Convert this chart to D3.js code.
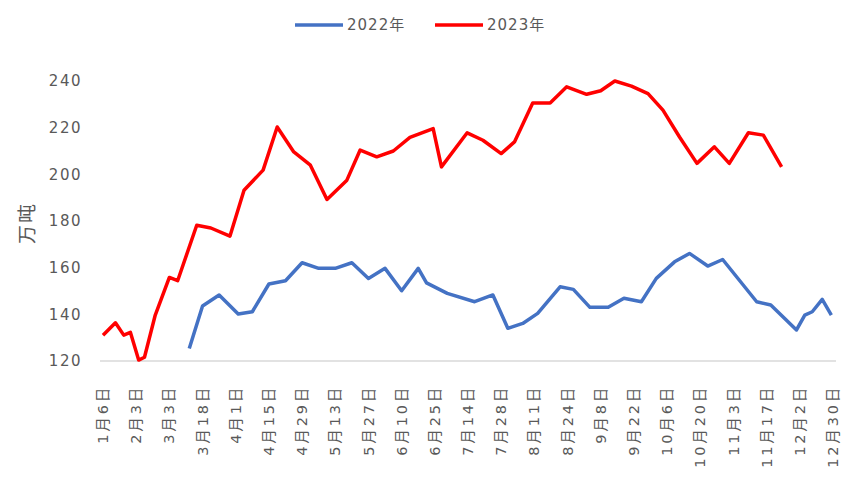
<!DOCTYPE html>
<html>
<head>
<meta charset="utf-8">
<script src="https://cdn.jsdelivr.net/npm/d3@7"></script>
<style>
  body { margin: 0; background: #fff; }
  text { font-family: "DejaVu Sans", "Noto Sans CJK SC", sans-serif; fill: #595959; }
</style>
</head>
<body>
<script>
var width = 841,
    height = 480;

// x positions are category slots (89 date slots, a label every 4th)
var tickLabels = ["1月6日", "2月3日", "3月3日", "3月18日", "4月1日", "4月15日", "4月29日",
  "5月13日", "5月27日", "6月10日", "6月25日", "7月14日", "7月28日", "8月11日", "8月24日",
  "9月8日", "9月22日", "10月6日", "10月20日", "11月3日", "11月17日", "12月2日", "12月30日"];

var slots2022 = [10.4, 12, 14, 16.3, 18, 20, 22, 24, 26, 28, 30, 32, 34, 36, 38, 39, 41.5, 44.8, 47,
  48.8, 50.6, 52.4, 55.1, 56.7, 58.7, 60.9, 62.8, 64.9, 66.7, 68.9, 70.7, 72.9, 74.7, 78.8, 80.5,
  83.6, 84.6, 85.5, 86.7, 87.8];
var values2022 = [125.4, 143.6, 148.3, 140.1, 141.1, 153, 154.4, 162.1, 159.7, 159.7, 162.1, 155.4,
  159.7, 150.1, 159.7, 153.5, 149, 145.4, 148.3, 134, 136.1, 140.4, 151.8, 150.7, 143, 143, 146.9,
  145.4, 155.4, 162.5, 166.1, 160.7, 163.5, 145.4, 144, 133.3, 139.7, 141.1, 146.4, 139.7];

var slots2023 = [0, 1.5, 2.5, 3.3, 4.3, 5, 6.3, 8, 9, 11.3, 13, 15.3, 17, 19.3, 21, 23, 25, 27, 29.4,
  31, 33, 35, 37, 39.8, 40.8, 43.9, 45.8, 48, 49.6, 51.8, 53.9, 55.9, 58.3, 60, 61.7, 63.7, 65.7,
  67.5, 69.5, 71.6, 73.7, 75.5, 77.8, 79.6, 81.8];
var values2023 = [131, 136.4, 131.1, 132.3, 120.4, 121.6, 139.7, 155.8, 154.4, 178.2, 177, 173.5,
  193.2, 201.8, 220.3, 209.6, 203.9, 189.2, 197.5, 210.4, 207.5, 210, 215.8, 219.6, 203.2, 217.8,
  214.6, 208.9, 213.9, 230.6, 230.6, 237.5, 234.3, 235.8, 240, 237.8, 234.6, 227.5, 216, 204.7,
  211.8, 204.7, 217.8, 216.8, 203.2];

var yTicks = [120, 140, 160, 180, 200, 220, 240];

var series = [
  { name: "2022年", color: "#4472C4", slots: slots2022, values: values2022 },
  { name: "2023年", color: "#FF0000", slots: slots2023, values: values2023 }
];

var svg = d3.select("body").append("svg")
    .attr("width", width)
    .attr("height", height);

var x = d3.scaleLinear().domain([0, 88]).range([103, 833]),
    y = d3.scaleLinear().domain([120, 240]).range([361, 81]);

// baseline
svg.append("line")
    .attr("x1", 100).attr("x2", 836)
    .attr("y1", y(120)).attr("y2", y(120))
    .attr("stroke", "#D9D9D9")
    .attr("stroke-width", 1.5);

// y tick labels
svg.selectAll("text.ytick")
  .data(yTicks)
  .enter()
  .append("text")
    .attr("class", "ytick")
    .attr("x", 82)
    .attr("y", function(d){ return y(d); })
    .attr("dy", "0.35em")
    .attr("text-anchor", "end")
    .style("font-size", "15px")
    .style("letter-spacing", "1.5px")
    .text(function(d){ return d; });

// y axis title
svg.append("text")
    .attr("transform", "translate(27," + 223 + ")rotate(-90)")
    .attr("text-anchor", "middle")
    .attr("dy", "0.35em")
    .style("font-size", "19px")
    .style("letter-spacing", "2px")
    .text("万吨");

// x tick labels, rotated
svg.selectAll("text.xtick")
  .data(tickLabels)
  .enter()
  .append("text")
    .attr("class", "xtick")
    .attr("transform", function(d, i){ return "translate(" + x(i * 4) + ",385)rotate(-90)"; })
    .attr("text-anchor", "end")
    .attr("dy", "0.35em")
    .style("font-size", "14.5px")
    .style("letter-spacing", "2.8px")
    .text(function(d){ return d; });

// lines
var line = d3.line()
    .x(function(d){ return x(d[0]); })
    .y(function(d){ return y(d[1]); });

svg.selectAll("path.series")
  .data(series)
  .enter()
  .append("path")
    .attr("class", "series")
    .attr("fill", "none")
    .attr("stroke", function(d){ return d.color; })
    .attr("stroke-width", 3.5)
    .attr("stroke-linejoin", "round")
    .attr("d", function(d){ return line(d3.zip(d.slots, d.values)); });

// legend
var legend = svg.selectAll("g.legend")
  .data(series)
  .enter()
  .append("g")
    .attr("class", "legend")
    .attr("transform", function(d, i){ return "translate(" + (295 + i * 140) + ",25)"; });

legend.append("line")
    .attr("x1", 0).attr("x2", 48)
    .attr("stroke", function(d){ return d.color; })
    .attr("stroke-width", 3.5);

legend.append("text")
    .attr("x", 52)
    .attr("dy", "0.35em")
    .style("font-size", "15px")
    .style("letter-spacing", "1px")
    .text(function(d){ return d.name; });
</script>
</body>
</html>
